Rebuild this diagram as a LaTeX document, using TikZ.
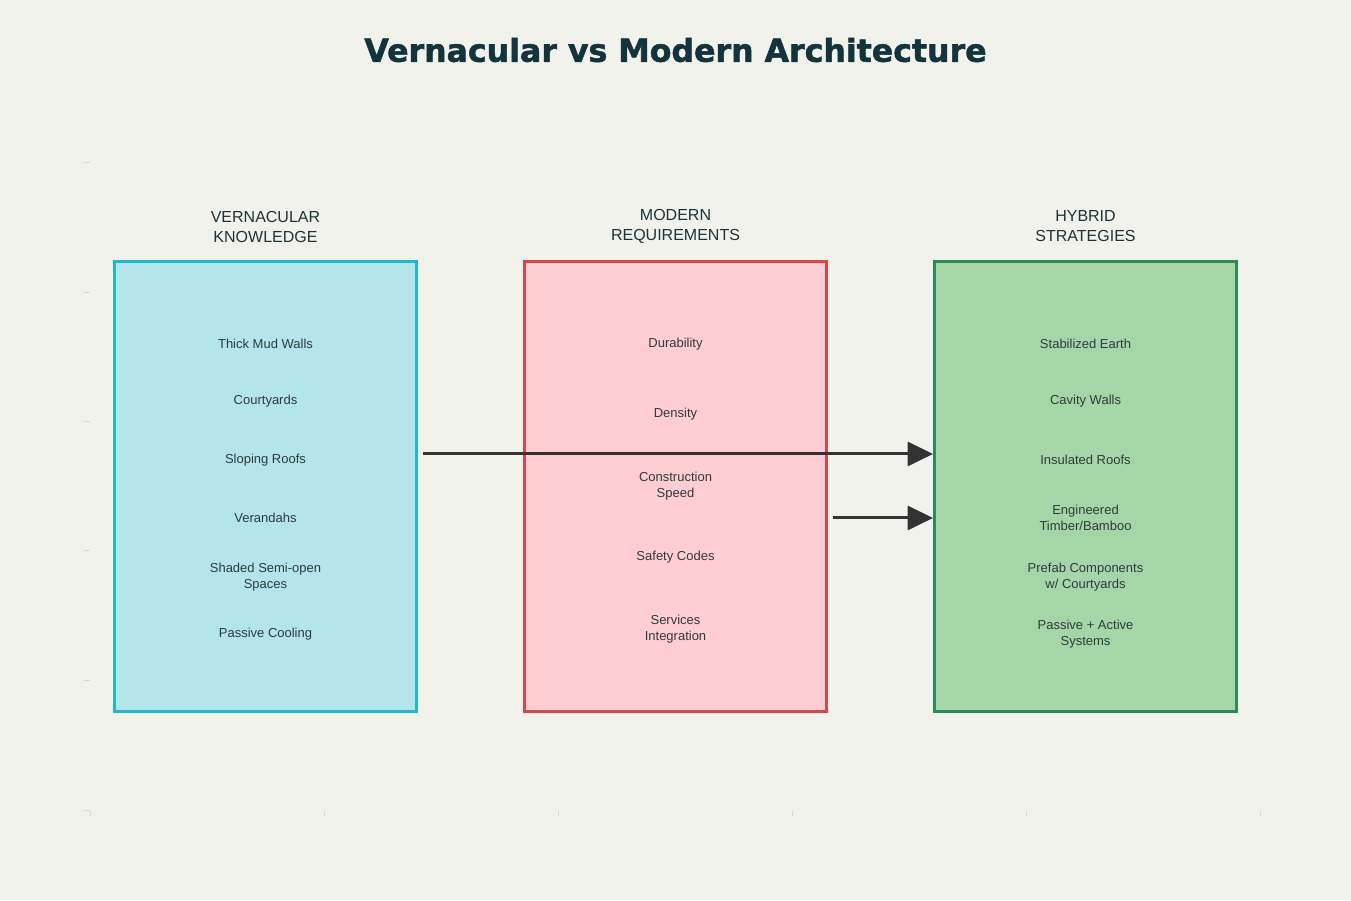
\documentclass[tikz,border=0pt]{standalone}
\usepackage{fontspec}
\setmainfont{Liberation Sans}
\newfontfamily\titlefont[BoldFeatures={FakeBold=1.6}]{DejaVu Sans}
\usetikzlibrary{arrows.meta}
\definecolor{bgcol}{HTML}{F2F2ED}
\definecolor{titlecol}{HTML}{13343B}
\definecolor{headcol}{HTML}{1E3337}
\definecolor{itemcol}{HTML}{2E3B3D}
\definecolor{vkfill}{HTML}{B3E5EA}
\definecolor{vkline}{HTML}{1FB8CD}
\definecolor{mrfill}{HTML}{FFCDD2}
\definecolor{mrline}{HTML}{DB4545}
\definecolor{hsfill}{HTML}{A5D6A7}
\definecolor{hsline}{HTML}{2E8B57}
\definecolor{arrowcol}{HTML}{333333}
\definecolor{tickcol}{HTML}{D6D6D2}

\begin{document}
\begin{tikzpicture}[x=0.75pt,y=-0.75pt,
  box/.style={draw, line width=2.25pt, minimum width=226.5pt, minimum height=337.5pt, inner sep=0pt},
  head/.style={align=center, font=\fontsize{12}{15}\selectfont, text=headcol},
  item/.style={align=center, font=\fontsize{9.75}{12}\selectfont, text=itemcol},
  flow/.style={draw=arrowcol, line width=2.25pt, -{Triangle[length=19pt,width=18pt]}},
  axtick/.style={draw=tickcol, line width=0.75pt}]
\fill[bgcol] (0,0) rectangle (1351,900);

% faint axis ticks
\foreach \y in {162,292,421,550,680,810}{
\draw[axtick] (84,\y)--(90,\y);
}
\foreach \x in {90,324,558,792,1026,1260}{
\draw[axtick] (\x,811)--(\x,816);
}

\node[text=titlecol, font=\titlefont\bfseries\fontsize{23.7}{28}\selectfont] (title) at (675.5,50) {Vernacular vs Modern Architecture};

% the three columns
\node[box, fill=vkfill, draw=vkline] (vk) at (265.5,486.5) {};
\node[box, fill=mrfill, draw=mrline] (mr) at (675.5,486.5) {};
\node[box, fill=hsfill, draw=hsline] (hs) at (1085.5,486.5) {};

\node[head] (vkhead) at (265.5,226.5) {VERNACULAR\\KNOWLEDGE};
\node[head] (mrhead) at (675.5,226.5) {MODERN\\REQUIREMENTS};
\node[head] (hshead) at (1085.5,226.5) {HYBRID\\STRATEGIES};

\node[item] (v1) at (265.5,344) {Thick Mud Walls};
\node[item] (v2) at (265.5,401) {Courtyards};
\node[item] (v3) at (265.5,460) {Sloping Roofs};
\node[item] (v4) at (265.5,518) {Verandahs};
\node[item] (v5) at (265.5,577) {Shaded Semi-open\\Spaces};
\node[item] (v6) at (265.5,634) {Passive Cooling};

\node[item] (m1) at (675.5,344) {Durability};
\node[item] (m2) at (675.5,414) {Density};
\node[item] (m3) at (675.5,486) {Construction\\Speed};
\node[item] (m4) at (675.5,557) {Safety Codes};
\node[item] (m5) at (675.5,629) {Services\\Integration};

\node[item] (h1) at (1085.5,344) {Stabilized Earth};
\node[item] (h2) at (1085.5,401) {Cavity Walls};
\node[item] (h3) at (1085.5,460) {Insulated Roofs};
\node[item] (h4) at (1085.5,518) {Engineered\\Timber/Bamboo};
\node[item] (h5) at (1085.5,577) {Prefab Components\\w/ Courtyards};
\node[item] (h6) at (1085.5,634) {Passive + Active\\Systems};

% arrows into the hybrid column
\draw[flow] ([xshift=4pt,yshift=24.4pt]vk.east) -- ([yshift=24.4pt]hs.west);
\draw[flow] ([xshift=4pt,yshift=-23.6pt]mr.east) -- ([yshift=-23.6pt]hs.west);
\end{tikzpicture}
\end{document}
